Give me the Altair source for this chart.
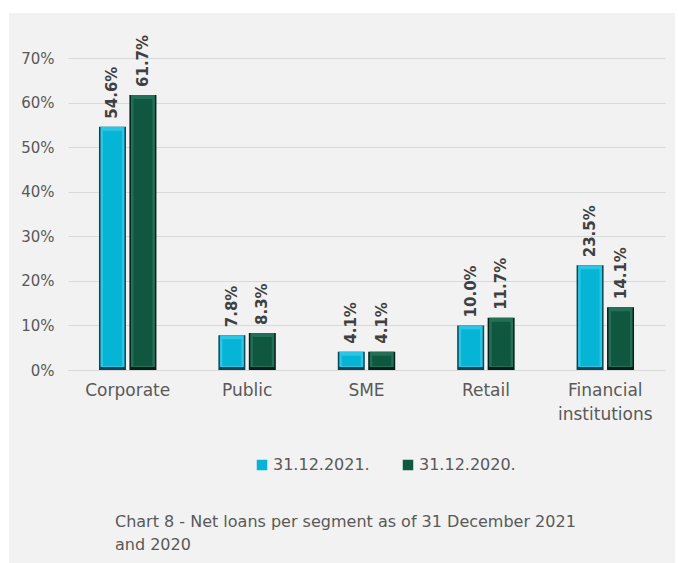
import altair as alt
import pandas as pd

# Net loans share per segment
segments = ["Corporate", "Public", "SME", "Retail", "Financial institutions"]
share_2021 = [54.6, 7.8, 4.1, 10.0, 23.5]
share_2020 = [61.7, 8.3, 4.1, 11.7, 14.1]
series = ["31.12.2021.", "31.12.2020."]
yticks = [0, 0.1, 0.2, 0.3, 0.4, 0.5, 0.6, 0.7]
caption = ["Chart 8 - Net loans per segment as of 31 December 2021", "and 2020"]

rows = []
for seg, a, b in zip(segments, share_2021, share_2020):
    rows.append({"segment": seg, "series": series[0], "value": a / 100, "label": f"{a:.1f}%"})
    rows.append({"segment": seg, "series": series[1], "value": b / 100, "label": f"{b:.1f}%"})
df = pd.DataFrame(rows)

FONT = "DejaVu Sans"
GRAY = "#595959"

face = alt.Scale(domain=series, range=["#06b4d5", "#10573f"])
edge = alt.Scale(domain=series, range=["#0a4656", "#04201a"])
light = alt.Scale(domain=series, range=["#2bc6e4", "#246f57"])

x_enc = alt.X(
    "segment:N",
    sort=segments,
    scale=alt.Scale(paddingInner=0.49, paddingOuter=0.245),
    axis=alt.Axis(
        title=None,
        labelAngle=0,
        labelFont=FONT,
        labelFontSize=17,
        labelColor=GRAY,
        labelPadding=12,
        labelLineHeight=24,
        labelExpr="datum.label == 'Financial institutions' ? ['Financial', 'institutions'] : datum.label",
        ticks=False,
        domain=True,
        domainColor="#d9d9d9",
        grid=False,
    ),
)
y_enc = alt.Y(
    "value:Q",
    scale=alt.Scale(domain=[0, 0.7], nice=False),
    axis=alt.Axis(
        title=None,
        values=yticks,
        format=".0%",
        labelFont=FONT,
        labelFontSize=15,
        labelColor=GRAY,
        labelPadding=14,
        ticks=False,
        domain=False,
        grid=True,
        gridColor="#d9d9d9",
    ),
)
xo = alt.XOffset("series:N", sort=series, scale=alt.Scale(paddingInner=0.0))
zero = alt.Y2(datum=0)

base = alt.Chart(df).encode(x=x_enc, y=y_enc, xOffset=xo)

# thin white margin around the grey panel
frame = alt.Chart(pd.DataFrame({"a": [0]})).mark_rect(color="white")
margin_top = frame.encode(x=alt.value(-68), x2=alt.value(610), y=alt.value(-58), y2=alt.value(-45))
margin_left = frame.encode(x=alt.value(-68), x2=alt.value(-59), y=alt.value(-58), y2=alt.value(505))
margin_right = frame.encode(x=alt.value(607), x2=alt.value(610), y=alt.value(-58), y2=alt.value(505))

# bevelled bars: dark outer edge, lighter top/left bevel, flat face
outer = base.mark_bar(size=27).encode(
    y2=zero, color=alt.Color("series:N", scale=edge, legend=None)
)
bevel = base.mark_bar(size=24, xOffset=-1.5, y2Offset=-3).encode(
    y2=zero, color=alt.Color("series:N", scale=light, legend=None)
)
inner = base.mark_bar(size=19, xOffset=-0.5, yOffset=4, y2Offset=-4).encode(
    y2=zero,
    color=alt.Color(
        "series:N",
        scale=face,
        sort=series,
        legend=alt.Legend(
            title=None,
            orient="none",
            legendX=186,
            legendY=399,
            direction="horizontal",
            symbolType="square",
            symbolSize=110,
            symbolStrokeWidth=0,
            labelFont=FONT,
            labelFontSize=16,
            labelColor=GRAY,
            columnPadding=30,
            labelOffset=3,
        ),
    ),
)

labels = base.mark_text(
    angle=270,
    align="left",
    baseline="middle",
    yOffset=-8,
    font=FONT,
    fontSize=15,
    fontWeight="bold",
    color="#404040",
).encode(text="label:N")

cap1 = alt.Chart(pd.DataFrame({"t": [caption[0]]})).mark_text(
    align="left", baseline="middle", font=FONT, fontSize=16, color=GRAY
).encode(x=alt.value(47), y=alt.value(464), text="t:N")
cap2 = alt.Chart(pd.DataFrame({"t": [caption[1]]})).mark_text(
    align="left", baseline="middle", font=FONT, fontSize=16, color=GRAY
).encode(x=alt.value(47), y=alt.value(487), text="t:N")

chart = (
    alt.layer(margin_top, margin_left, margin_right, outer, bevel, inner, labels, cap1, cap2)
    .resolve_scale(color="independent")
    .properties(
        width=597,
        height=312,
        autosize=alt.AutoSizeParams(type="none"),
        padding={"left": 68, "top": 58, "right": 13, "bottom": 193},
        background="#f2f2f2",
    )
    .configure_view(stroke=None)
)

chart.save("out.html", embed_options={"renderer": "svg", "actions": False})
